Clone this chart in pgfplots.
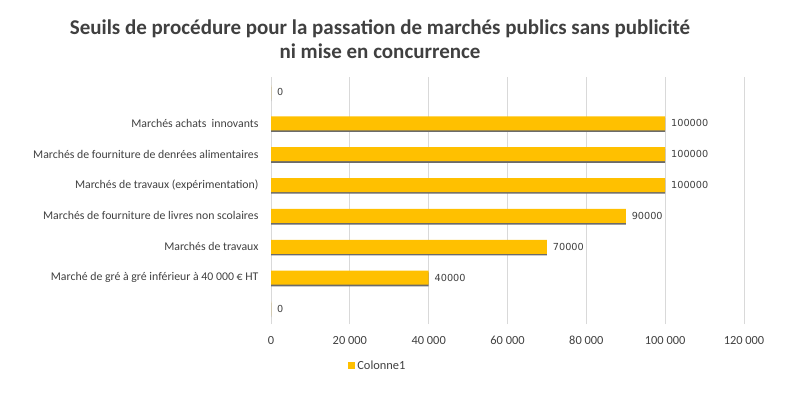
\documentclass[border=0pt]{standalone}
\usepackage{pgfplots}
\pgfplotsset{compat=1.18}
\usepackage{fontspec}
\setmainfont{Carlito}
\newfontfamily\valfont{DejaVu Sans}
\definecolor{gold}{HTML}{FFC000}
\definecolor{txt}{HTML}{404040}
\definecolor{gridc}{HTML}{D9D9D9}
\definecolor{shadow}{HTML}{6B6B6B}
\begin{document}
\begin{tikzpicture}[x=1pt,y=1pt]
\useasboundingbox (0,0) rectangle (800,392);
\node[font=\fontsize{21}{23.5}\selectfont\bfseries, text=txt, align=center] at (380,353)
  {Seuils de procédure pour la passation de marchés publics sans publicité\\ni mise en concurrence};
\begin{axis}[
  at={(271pt,68pt)}, anchor=south west,
  scale only axis, width=473pt, height=247pt,
  xbar,
  xmin=0, xmax=120000, ymin=-0.5, ymax=7.5,
  xtick={0,20000,40000,60000,80000,100000,120000},
  scaled x ticks=false,
  ytick={0,1,2,3,4,5,6,7},
  yticklabels={{},{Marché de gré à gré inférieur à 40 000 € HT},{Marchés de travaux},{Marchés de fourniture de livres non scolaires},{Marchés de travaux (expérimentation)},{Marchés de fourniture de denrées alimentaires},{Marchés achats~ innovants},{}},
  axis line style={draw=none},
  major tick length=0pt,
  xmajorgrids, grid style={gridc, line width=1pt},
  xticklabel style={font=\fontsize{12.4}{14}\selectfont, text=txt, yshift=-8.5pt,
    /pgf/number format/fixed, /pgf/number format/precision=0,
    /pgf/number format/1000 sep={\ }, /pgf/number format/assume math mode=true},
  yticklabel style={font=\fontsize{11.8}{13}\selectfont, text=txt, xshift=-9pt},
  legend style={at={(axis description cs:0.226,-0.17)}, anchor=center, draw=none,
    font=\fontsize{12.4}{14}\selectfont, text=txt, inner sep=0pt},
  legend image code/.code={\fill[gold] (0pt,-3.5pt) rectangle (7pt,3.5pt);},
  legend cell align=left,
  clip=false,
]
\addplot[fill=shadow, draw=none, bar width=14pt, bar shift=-1.6pt, forget plot]
  coordinates {(0,0) (40000,1) (70000,2) (90000,3) (100000,4) (100000,5) (100000,6) (0,7)};
\addplot[fill=gold, draw=none, bar width=14pt, bar shift=0pt,
  nodes near coords, point meta=x,
  nodes near coords style={font=\valfont\fontsize{9.7}{11}\selectfont, text=txt, anchor=west, xshift=2.5pt,
    /pgf/number format/fixed, /pgf/number format/precision=0, /pgf/number format/1000 sep={}, /pgf/number format/assume math mode=true}]
  coordinates {(0,0) (40000,1) (70000,2) (90000,3) (100000,4) (100000,5) (100000,6) (0,7)};
\addlegendentry{Colonne1}
\end{axis}
\end{tikzpicture}
\end{document}
